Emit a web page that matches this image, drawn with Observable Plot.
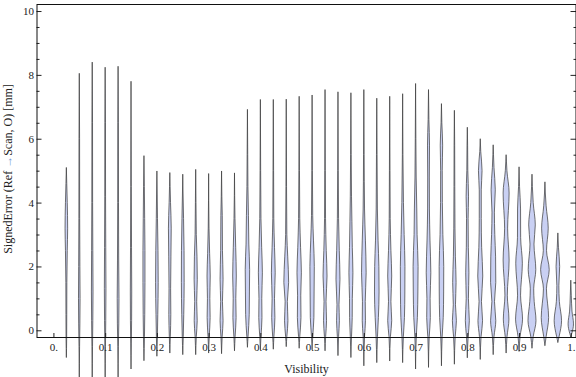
<!DOCTYPE html>
<html><head><meta charset="utf-8">
<script src="https://cdn.jsdelivr.net/npm/d3@7"></script>
<script src="https://cdn.jsdelivr.net/npm/@observablehq/plot@0.6"></script>
<style>body{margin:0;background:#fff} svg{display:block}</style>
</head><body><div id="chart"></div><script>
const visibility = [0.025,0.05,0.075,0.1,0.125,0.15,0.175,0.2,0.225,0.25,0.275,0.3,0.325,0.35,0.375,0.4,0.425,0.45,0.475,0.5,0.525,0.55,0.575,0.6,0.625,0.65,0.675,0.7,0.725,0.75,0.775,0.8,0.825,0.85,0.875,0.9,0.925,0.95,0.975,1.0];
const maxima = [5.1,8.05,8.4,8.24,8.27,7.8,5.47,4.99,4.94,4.89,5.04,4.91,4.99,4.93,6.92,7.23,7.23,7.24,7.33,7.37,7.54,7.47,7.44,7.54,7.27,7.33,7.41,7.73,7.54,7.1,6.89,6.36,6.0,5.81,5.5,5.12,4.89,4.65,3.05,1.57];
const minima = [-0.84,-1.6,-1.6,-1.6,-1.6,-1.2,-0.94,-0.8,-0.7,-0.75,-0.75,-0.7,-0.72,-0.63,-0.52,-0.6,-0.58,-0.5,-0.55,-0.6,-0.63,-0.78,-0.84,-1.1,-1.0,-0.95,-1.0,-1.2,-1.15,-1.1,-1.05,-0.85,-0.9,-0.75,-0.7,-0.65,-0.55,-0.47,-0.37,-0.2];
// density profiles: [value, density] knots
const profiles = [
 [[-0.3,0.3],[0.5,0.4],[1.5,0.5],[2.5,0.9],[3.2,1.3],[4.0,0.9],[4.6,0.4]],
 [[-0.5,0.3],[0.2,0.6],[1.0,0.8],[2.0,0.6],[3.5,0.4],[6.0,0.3]],
 [[-0.5,0.3],[0.3,0.6],[1.2,0.8],[2.5,0.6],[4.0,0.4],[6.5,0.3]],
 [[-0.5,0.3],[0.3,0.6],[1.3,0.8],[2.6,0.6],[4.2,0.4],[6.5,0.3]],
 [[-0.5,0.3],[0.2,0.7],[1.0,0.9],[2.2,0.6],[4.0,0.4],[6.5,0.3]],
 [[-0.4,0.3],[0.3,0.6],[1.2,0.7],[2.6,0.5],[4.5,0.3]],
 [[-0.2,0.5],[0.5,0.8],[1.5,1.0],[2.5,1.0],[3.5,0.7],[4.5,0.4]],
 [[-0.2,0.5],[0.5,0.9],[1.5,1.3],[2.5,1.1],[3.5,0.6],[4.3,0.3]],
 [[-0.2,0.5],[0.5,1.0],[1.3,0.8],[2.3,1.1],[3.2,1.4],[4.0,0.7],[4.5,0.3]],
 [[-0.2,0.5],[0.5,1.0],[1.5,1.4],[2.5,1.3],[3.5,0.8],[4.3,0.3]],
 [[-0.2,0.6],[0.3,1.5],[0.9,1.0],[1.6,1.6],[2.3,1.3],[3.0,0.6],[4.0,0.3]],
 [[-0.2,0.6],[0.4,1.5],[1.0,1.2],[1.7,1.6],[2.4,1.0],[3.2,0.4]],
 [[-0.2,0.6],[0.3,1.5],[0.9,0.9],[1.6,1.5],[2.5,0.9],[3.6,0.7],[4.2,0.3]],
 [[-0.2,0.6],[0.4,1.6],[1.0,1.3],[1.7,1.8],[2.6,1.2],[3.5,0.5]],
 [[-0.2,0.6],[0.5,1.8],[1.2,2.0],[1.9,2.2],[2.7,1.4],[3.6,1.0],[4.5,0.5],[5.5,0.3]],
 [[-0.2,0.6],[0.4,1.6],[1.0,1.4],[1.8,2.0],[2.6,1.3],[3.5,0.6],[5.0,0.3]],
 [[-0.2,0.6],[0.4,1.6],[1.0,1.2],[1.8,1.9],[2.6,1.2],[3.5,0.5],[5.0,0.3]],
 [[-0.2,0.6],[0.3,1.7],[0.9,1.1],[1.5,2.4],[2.3,1.5],[3.0,0.6],[4.5,0.3]],
 [[-0.2,0.6],[0.4,1.8],[1.1,1.6],[1.8,2.2],[2.6,1.4],[3.5,0.6],[5.0,0.3]],
 [[-0.2,0.6],[0.4,1.8],[1.2,2.0],[2.0,2.2],[2.8,1.4],[3.6,0.6],[5.0,0.3]],
 [[-0.2,0.6],[0.3,1.5],[0.9,1.0],[1.7,2.0],[2.5,1.2],[3.5,0.5],[5.0,0.3]],
 [[-0.2,0.6],[0.3,1.4],[0.8,1.0],[1.6,2.0],[2.5,1.3],[3.5,0.6],[5.0,0.3]],
 [[-0.2,0.6],[0.4,1.3],[1.0,1.4],[1.8,2.0],[2.6,1.4],[3.4,1.0],[4.2,0.6],[5.5,0.3]],
 [[-0.2,0.7],[0.3,1.6],[0.9,1.4],[1.8,2.3],[2.8,1.6],[3.8,0.7],[5.5,0.3]],
 [[-0.2,0.7],[0.4,1.6],[1.2,2.3],[2.0,2.1],[2.8,1.3],[3.8,0.6],[5.5,0.3]],
 [[-0.2,0.7],[0.3,2.0],[0.9,1.2],[1.7,2.0],[2.5,1.2],[3.5,0.5],[5.0,0.3]],
 [[-0.2,0.7],[0.4,1.8],[1.2,2.2],[2.0,2.3],[3.0,1.5],[4.0,0.8],[5.5,0.3]],
 [[-0.2,0.7],[0.4,1.8],[1.2,2.3],[2.0,2.5],[3.0,1.5],[3.8,1.2],[4.8,0.6],[6.0,0.3]],
 [[-0.2,0.7],[0.4,1.8],[1.0,1.6],[1.8,2.3],[2.8,1.5],[3.8,0.9],[4.8,0.8],[5.8,1.0],[6.6,0.4]],
 [[-0.2,0.7],[0.4,1.8],[1.2,2.2],[2.0,2.3],[3.0,1.4],[4.0,0.9],[5.0,0.8],[5.8,1.2],[6.5,0.4]],
 [[-0.2,0.8],[0.3,2.0],[0.8,1.1],[1.5,1.7],[2.3,1.0],[3.2,0.6],[4.5,0.4],[5.8,0.3]],
 [[-0.2,0.8],[0.3,2.0],[1.0,1.1],[1.8,1.6],[2.6,1.0],[3.5,0.8],[4.2,1.2],[5.0,0.5],[5.8,0.3]],
 [[-0.2,0.8],[0.3,2.3],[0.9,1.2],[1.7,2.5],[2.6,1.4],[3.5,1.0],[4.4,1.0],[5.0,1.8],[5.6,0.5]],
 [[-0.2,0.8],[0.3,2.6],[0.9,1.3],[1.5,2.6],[2.3,2.4],[3.0,1.6],[3.7,1.2],[4.4,2.1],[5.1,0.8],[5.5,0.3]],
 [[-0.2,0.9],[0.35,2.8],[1.1,1.2],[2.2,3.0],[3.2,1.5],[4.3,3.0],[5.0,0.8],[5.3,0.3]],
 [[-0.2,1.0],[0.35,3.5],[1.1,1.5],[2.1,3.3],[2.9,1.6],[3.8,1.5],[4.5,0.5]],
 [[-0.2,1.2],[0.3,4.0],[0.9,2.2],[1.3,1.7],[1.9,3.8],[2.7,2.0],[3.3,3.3],[4.0,1.2],[4.5,0.4]],
 [[-0.2,1.2],[0.4,3.7],[1.3,1.5],[1.9,4.3],[2.5,1.6],[3.2,3.3],[3.9,1.2],[4.3,0.4]],
 [[-0.2,1.2],[0.3,3.7],[0.9,1.5],[1.4,1.0],[2.0,1.8],[2.6,0.6]],
 [[-0.1,1.0],[0.2,2.7],[0.6,1.2],[1.1,0.5]]
];
const xTicks = [0,0.1,0.2,0.3,0.4,0.5,0.6,0.7,0.8,0.9,1];
const xTickLabels = ["0.","0.1","0.2","0.3","0.4","0.5","0.6","0.7","0.8","0.9","1."];
const yTicks = [0,2,4,6,8,10];
const yMinorTicks = [0.5,1,1.5,2.5,3,3.5,4.5,5,5.5,6.5,7,7.5,8.5,9,9.5];
const xLabel = "Visibility";
const yLabel = "SignedError (Ref \u2192Scan, O) [mm]";

const densityScale = 1 / 517.2;
const rows = [];
visibility.forEach((x, i) => {
  const pts = [[minima[i], 0], ...profiles[i], [maxima[i], 0]];
  pts.forEach(([v, d]) => rows.push({k: i, x, v, d}));
});

const chart = Plot.plot({
  width: 576, height: 377,
  marginLeft: 36.5, marginRight: 0.5, marginTop: 4, marginBottom: 40,
  x: {domain: [-0.0327, 1.0091]},
  y: {domain: [-0.21, 10.22]},
  style: {fontFamily: "'Liberation Serif','Times New Roman',serif", fontSize: "11px", color: "#222", background: "white", overflow: "visible"},
  marks: [
    Plot.areaX(rows, {y: "v", x1: d => d.x - d.d * densityScale, x2: d => d.x + d.d * densityScale, z: "k",
      curve: "monotone-y", fill: "#c9d0f3", stroke: "#3a3a3a", strokeWidth: 0.85, strokeOpacity: 0.85}),
    Plot.axisY({ticks: yMinorTicks, tickSize: -3, tickFormat: () => "", label: null}),
    Plot.axisY({ticks: yTicks, tickSize: -5, tickPadding: 8, label: null}),
    Plot.axisY({anchor: "right", ticks: yMinorTicks, tickSize: -3, tickFormat: () => "", label: null}),
    Plot.axisY({anchor: "right", ticks: yTicks, tickSize: -6, tickFormat: () => "", label: null}),
    Plot.axisX({ticks: xTicks, tickSize: -4, tickPadding: 10, tickFormat: d => xTickLabels[xTicks.indexOf(d)], label: null}),
    Plot.text([xLabel], {text: d => d, frameAnchor: "bottom", textAnchor: "middle", lineAnchor: "middle", dy: 31.5, fontSize: 12, fill: "#222"}),
    Plot.text([yLabel], {text: d => d, frameAnchor: "left", textAnchor: "middle", lineAnchor: "middle", rotate: -90, dx: -28.5, dy: -2, fontSize: 12, fill: "#222"}),
    Plot.frame({stroke: "#111"})
  ]
});
d3.select(chart).selectAll("text").each(function() {
  const t = this.textContent;
  if (t.includes("\u2192") && !this.querySelector("tspan")) {
    const parts = t.split("\u2192");
    const s = d3.select(this);
    s.text(null);
    s.append("tspan").text(parts[0]);
    s.append("tspan").attr("fill", "#7b98d6").text("\u2192");
    s.append("tspan").text(parts[1]);
  }
});
document.getElementById("chart").appendChild(chart);
</script></body></html>
